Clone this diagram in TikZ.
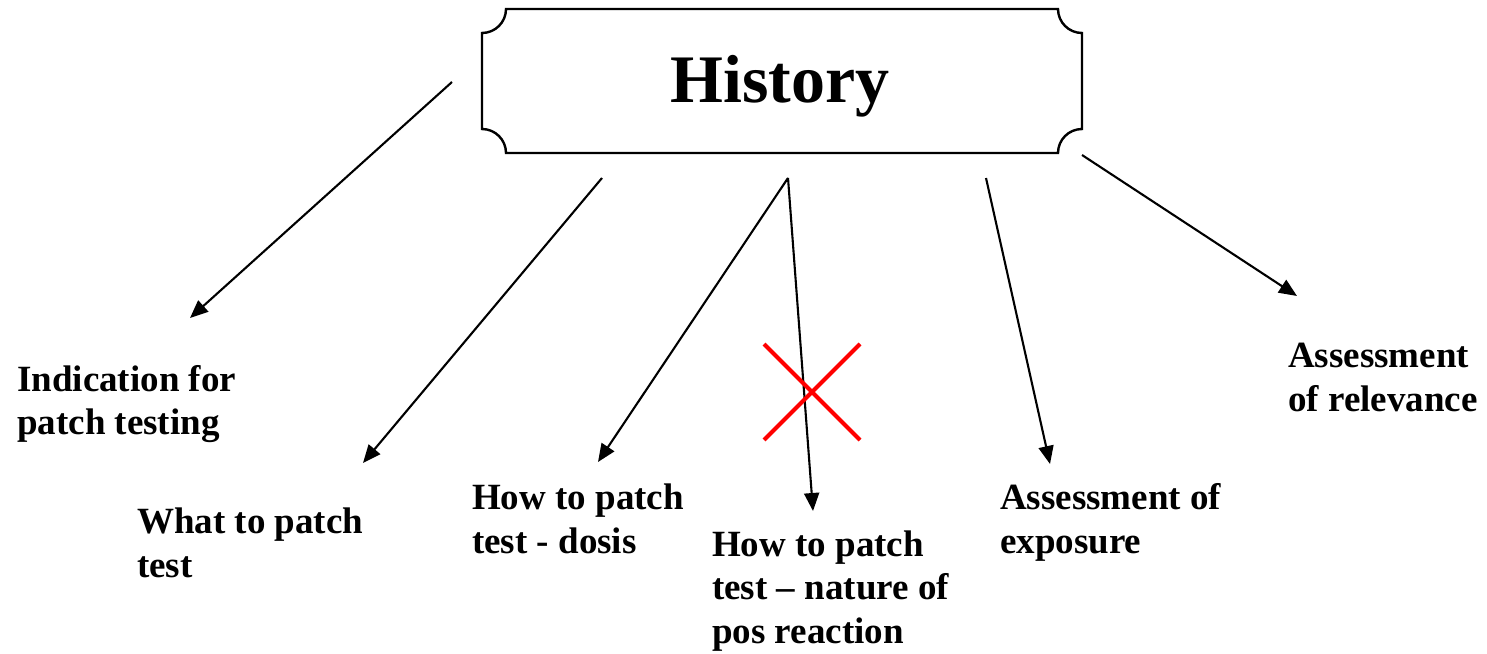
\documentclass[tikz,border=0pt]{standalone}
\usepackage{fontspec}
\setmainfont{Liberation Serif}
\usetikzlibrary{arrows.meta}
\begin{document}
\begin{tikzpicture}[x=1pt,y=-1pt,
  lbl/.style={anchor=base west,inner sep=0pt,align=left,font=\bfseries\fontsize{37}{43.5}\selectfont},
  conn/.style={line width=2.1pt,-{Triangle[length=18pt,width=15pt]}},
  plaque/.style={line width=2.4pt},
  cross/.style={line width=4pt,red}]
\useasboundingbox (0,0) rectangle (1487,653);
% title box
\draw[plaque] (506,9) -- (1058,9) .. controls (1058,22.25) and (1068.75,33) .. (1082,33)
  -- (1082,129) .. controls (1068.75,129) and (1058,139.75) .. (1058,153)
  -- (506,153) .. controls (506,139.75) and (495.25,129) .. (482,129)
  -- (482,33) .. controls (495.25,33) and (506,22.25) .. (506,9) -- cycle;
\node[anchor=base,inner sep=0pt,font=\bfseries\fontsize{68}{80}\selectfont] (hist) at (780,102) {History};
% labels (anchored at the baseline of their last line)
\node[lbl] (ind) at (17,434.5) {Indication for\\patch testing};
\node[lbl] (what) at (137,577) {What to patch\\test};
\node[lbl] (dosis) at (472,553) {How to patch\\test - dosis};
\node[lbl] (nat) at (712,643) {How to patch\\test – nature of\\pos reaction};
\node[lbl] (expo) at (1000,553) {Assessment of\\exposure};
\node[lbl] (rel) at (1288,411) {Assessment\\of relevance};
% connector ends
\coordinate (s1) at (452,82);  \coordinate (e1) at (190,318);
\coordinate (s2) at (602,178); \coordinate (e2) at (363,463);
\coordinate (s3) at (788,178); \coordinate (e3) at (598,462);
\coordinate (s4) at (788,178); \coordinate (e4) at (813,511);
\coordinate (s5) at (986,178); \coordinate (e5) at (1050,464);
\coordinate (s6) at (1082,155); \coordinate (e6) at (1297,296);
\draw[conn] (s1) -- (e1);
\draw[conn] (s2) -- (e2);
\draw[conn] (s3) -- (e3);
\draw[conn] (s4) -- (e4);
\draw[conn] (s5) -- (e5);
\draw[conn] (s6) -- (e6);
% red cross
\coordinate (x1) at (764,344); \coordinate (x2) at (860,440);
\coordinate (x3) at (860,344); \coordinate (x4) at (764,440);
\draw[cross] (x1) -- (x2);
\draw[cross] (x3) -- (x4);
\end{tikzpicture}
\end{document}
